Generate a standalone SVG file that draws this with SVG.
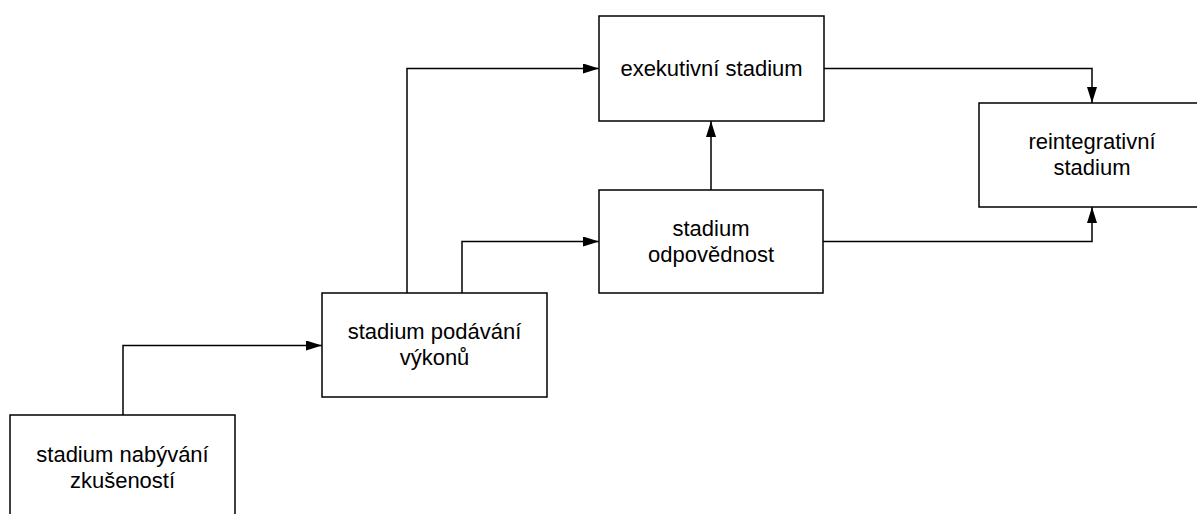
<svg xmlns="http://www.w3.org/2000/svg" width="1197" height="514" viewBox="0 0 1197 514">
  <style>
    .box { fill: #ffffff; stroke: #000000; stroke-width: 1.5; }
    .lbl { font-family: "Liberation Sans", Arial, sans-serif; font-size: 22px; fill: #000000; text-anchor: middle; }
    .edge { fill: none; stroke: #000000; stroke-width: 1.5; marker-end: url(#arrow); }
  </style>
  <defs>
    <marker id="arrow" markerUnits="userSpaceOnUse" markerWidth="16" markerHeight="10" refX="16" refY="5" orient="auto">
      <path d="M0,0 L16,5 L0,10 Z" fill="#000000"/>
    </marker>
  </defs>
  <rect width="1197" height="514" fill="#ffffff"/>

  <g id="connectors">
    <path class="edge" d="M123,415 V345.5 H322"/>
    <path class="edge" d="M407,293 V68.5 H599"/>
    <path class="edge" d="M462,293 V241.5 H599"/>
    <path class="edge" d="M711,190 V121"/>
    <path class="edge" d="M824,68.5 H1092 V103"/>
    <path class="edge" d="M823,241.5 H1092 V207"/>
  </g>

  <g id="nabyvani">
    <rect class="box" x="10" y="415" width="225" height="110"/>
    <text class="lbl" x="122.5" y="462">stadium nabývání</text>
    <text class="lbl" x="122.5" y="488">zkušeností</text>
  </g>

  <g id="podavani">
    <rect class="box" x="322" y="293" width="225" height="104"/>
    <text class="lbl" x="434.5" y="339">stadium podávání</text>
    <text class="lbl" x="434.5" y="365">výkonů</text>
  </g>

  <g id="odpovednost">
    <rect class="box" x="599" y="190" width="224" height="103"/>
    <text class="lbl" x="711" y="236">stadium</text>
    <text class="lbl" x="711" y="262">odpovědnost</text>
  </g>

  <g id="exekutivni">
    <rect class="box" x="599" y="16" width="225" height="105"/>
    <text class="lbl" x="711.5" y="76">exekutivní stadium</text>
  </g>

  <g id="reintegrativni">
    <rect class="box" x="979" y="103" width="226" height="104"/>
    <text class="lbl" x="1092" y="149">reintegrativní</text>
    <text class="lbl" x="1092" y="175">stadium</text>
  </g>
</svg>
